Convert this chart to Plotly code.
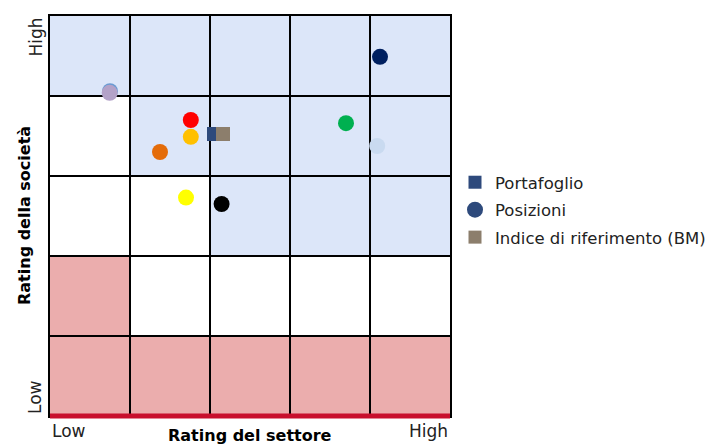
import plotly.graph_objects as go

# ---- data ----
zone_rows = [  # top row first; B = blue, W = white, P = pink
    "BBBBB",
    "WBBBB",
    "WWBBB",
    "PWWWW",
    "PPPPP",
]
zone_colors = {"B": "#DCE6F9", "W": "#FFFFFF", "P": "#EBADAD"}

pos_x = [0.75, 0.746, 1.76, 1.76, 1.375, 1.70, 2.145, 4.125, 3.70, 4.09]
pos_y = [4.06, 4.04, 3.70, 3.49, 3.30, 2.73, 2.65, 4.49, 3.66, 3.375]
pos_colors = ["#6A9BD3", "#B3A2C8", "#FF0000", "#FFC000", "#E46C0A",
              "#FFFF00", "#000000", "#002060", "#00B050", "#C9DAF0"]

port_x, port_y = [2.05], [3.525]
bm_x, bm_y = [2.1625], [3.525]

legend_names = ["Portafoglio", "Posizioni", "Indice di riferimento (BM)"]
legend_colors = ["#2E4A7C", "#2E4A7C", "#8C7E6C"]
legend_symbols = ["square", "circle", "square"]

x_title = "Rating del settore"
y_title = "Rating della società"
low_lbl, high_lbl = "Low", "High"

FONT = "DejaVu Sans"

fig = go.Figure()

# cell backgrounds
n = len(zone_rows)
for r, row in enumerate(zone_rows):
    for c, z in enumerate(row):
        fig.add_shape(type="rect", x0=c, x1=c + 1, y0=n - r - 1, y1=n - r,
                      fillcolor=zone_colors[z], line_width=0, layer="below")

fig.add_trace(go.Scatter(x=pos_x, y=pos_y, mode="markers", showlegend=False,
                         marker=dict(size=16, color=pos_colors, line_width=0)))
fig.add_trace(go.Scatter(x=port_x, y=port_y, mode="markers", showlegend=False,
                         marker=dict(size=14, symbol="square", color=legend_colors[0], line_width=0)))
fig.add_trace(go.Scatter(x=bm_x, y=bm_y, mode="markers", showlegend=False,
                         marker=dict(size=14, symbol="square", color=legend_colors[2], line_width=0)))

for i, (nm, col, sym) in enumerate(zip(legend_names, legend_colors, legend_symbols)):
    fig.add_trace(go.Scatter(x=[None], y=[None], mode="markers", name=nm, legendrank=i + 1,
                             legendgroup="g%d" % i,
                             marker=dict(size=16 if sym == "circle" else 13, symbol=sym, color=col)))

# red base line (paper-referenced so it is not clipped by the plot area)
fig.add_shape(type="line", xref="paper", yref="paper", x0=0, x1=1, y0=0, y1=0,
              line=dict(color="#C8102E", width=5), layer="above")

axis_common = dict(range=[0, 5], tick0=0, dtick=1, showgrid=True, gridcolor="#000000", gridwidth=1.5,
                   zeroline=False, showline=True, mirror=True, linecolor="#000000", linewidth=1.5,
                   showticklabels=False, ticks="", fixedrange=True)
fig.update_xaxes(**axis_common)
fig.update_yaxes(**axis_common)

ann_font = dict(family=FONT, size=17, color="#222222")
bold_font = dict(family=FONT, size=16, color="#000000")
fig.add_annotation(x=0, y=0, xref="x", yref="y", text=low_lbl, showarrow=False,
                   xanchor="left", yanchor="top", yshift=-3, font=ann_font)
fig.add_annotation(x=5, y=0, xref="x", yref="y", text=high_lbl, showarrow=False,
                   xanchor="right", yanchor="top", yshift=-3, font=ann_font)
fig.add_annotation(x=0, y=5, xref="x", yref="y", text=high_lbl, showarrow=False, textangle=-90,
                   xanchor="right", yanchor="top", xshift=-3, font=ann_font)
fig.add_annotation(x=0, y=0, xref="x", yref="y", text=low_lbl, showarrow=False, textangle=-90,
                   xanchor="right", yanchor="bottom", xshift=-3, font=ann_font)
fig.add_annotation(x=0.5, y=0, xref="paper", yref="paper", text="<b>" + x_title + "</b>", showarrow=False,
                   xanchor="center", yanchor="top", yshift=-8, font=bold_font)
fig.add_annotation(x=0, y=0.5, xref="paper", yref="paper", text="<b>" + y_title + "</b>", showarrow=False,
                   textangle=-90, xanchor="center", yanchor="middle", xshift=-26, font=bold_font)

# page body has an 8px margin, so the figure is drawn 8px smaller and offset
fig.update_layout(
    width=710, height=437,
    margin=dict(l=42, r=268, t=8, b=29, autoexpand=False),
    paper_bgcolor="white", plot_bgcolor="white",
    font=dict(family=FONT, size=16.5, color="#222222"),
    legend=dict(x=1.0125, y=0.515, xanchor="left", yanchor="middle",
                font=dict(family=FONT, size=16.5, color="#222222"),
                bgcolor="rgba(0,0,0,0)", borderwidth=0, itemsizing="trace",
                tracegroupgap=3, traceorder="grouped"),
)

fig.write_html("out.html")
